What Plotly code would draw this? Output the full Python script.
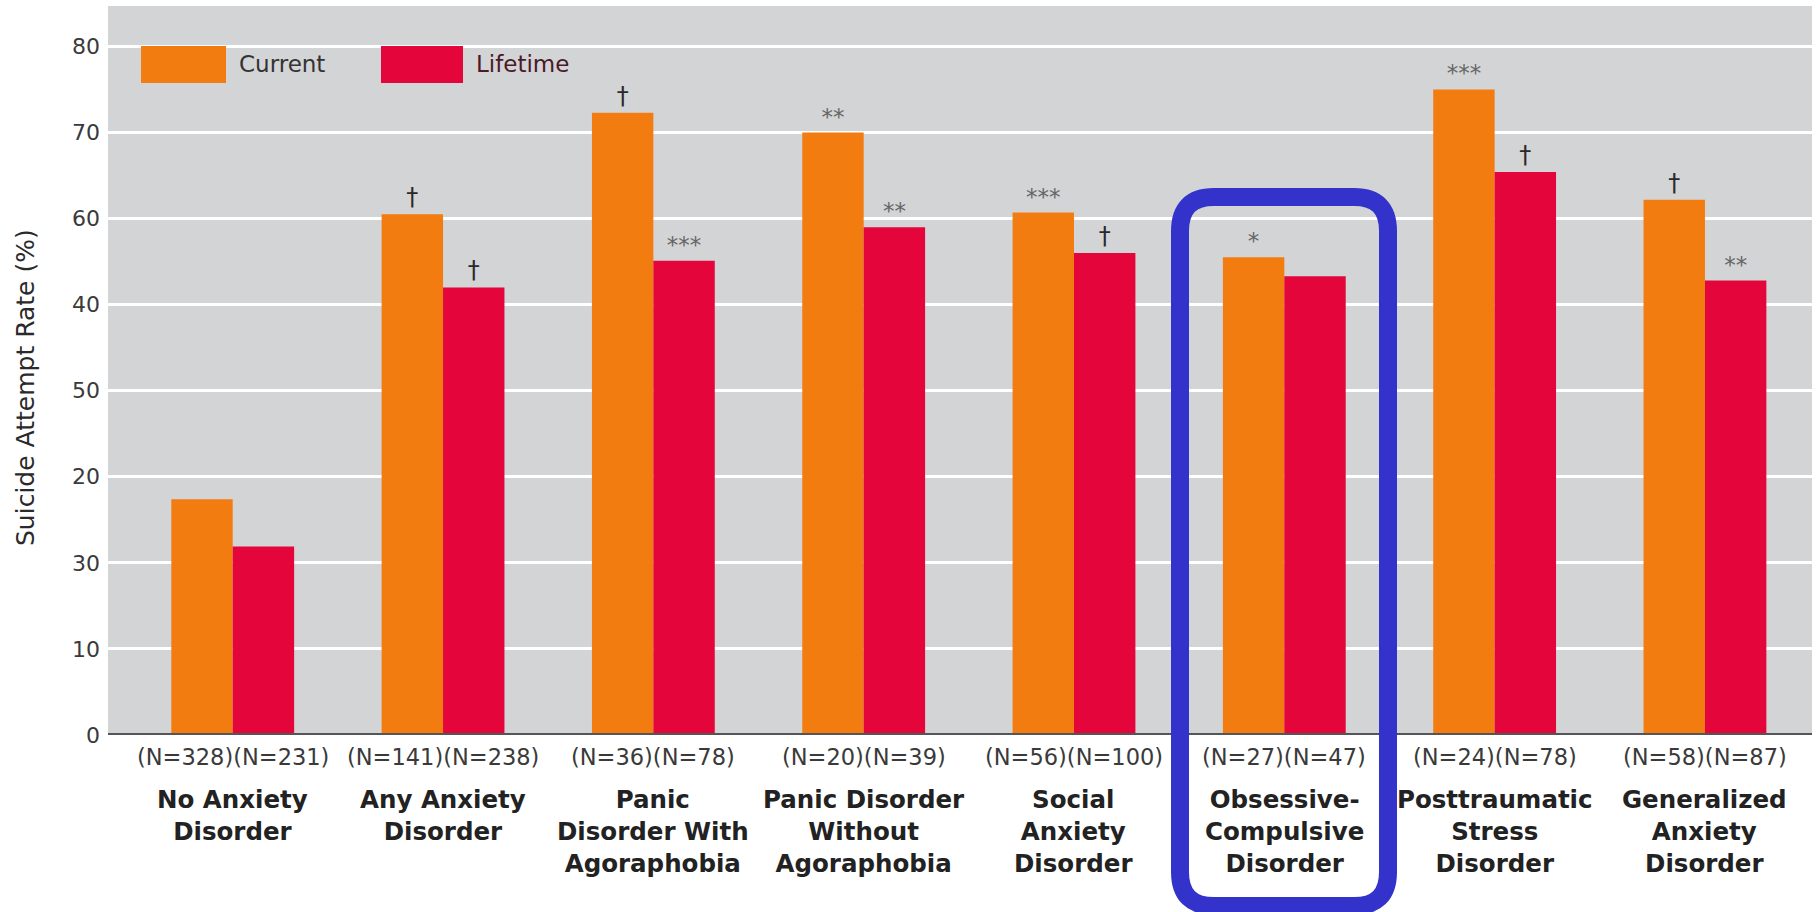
import plotly.graph_objects as go

# ---- data ----
categories = [
    "No Anxiety<br>Disorder",
    "Any Anxiety<br>Disorder",
    "Panic<br>Disorder With<br>Agoraphobia",
    "Panic Disorder<br>Without<br>Agoraphobia",
    "Social<br>Anxiety<br>Disorder",
    "Obsessive-<br>Compulsive<br>Disorder",
    "Posttraumatic<br>Stress<br>Disorder",
    "Generalized<br>Anxiety<br>Disorder",
]
n_labels = [
    "(N=328)(N=231)", "(N=141)(N=238)", "(N=36)(N=78)", "(N=20)(N=39)",
    "(N=56)(N=100)", "(N=27)(N=47)", "(N=24)(N=78)", "(N=58)(N=87)",
]
current = [27.4, 60.5, 72.3, 70.0, 60.7, 55.5, 75.0, 62.2]
lifetime = [21.9, 52.0, 55.1, 59.0, 56.0, 53.3, 65.4, 52.8]
current_marks = ["", "†", "†", "**", "***", "*", "***", "†"]
lifetime_marks = ["", "†", "***", "**", "†", "", "†", "**"]
y_tickvals = [0, 10, 20, 30, 40, 50, 60, 70, 80]
y_ticktext = ["0", "10", "30", "20", "50", "40", "60", "70", "80"]
series_names = ["Current", "Lifetime"]

# ---- style ----
ORANGE = "#F37C10"
RED = "#E4063A"
BG = "#D3D4D6"
BLUE = "#3333CC"
FONT = "DejaVu Sans"


def mark_colors(marks):
    return ["#2a2a2a" if m == "†" else "#666666" for m in marks]


def mark_sizes(marks):
    return [24 if m == "†" else 23 for m in marks]


fig = go.Figure()
for name, vals, marks, col in [
    (series_names[0], current, current_marks, ORANGE),
    (series_names[1], lifetime, lifetime_marks, RED),
]:
    fig.add_trace(go.Bar(
        x=categories, y=vals, name=name, marker=dict(color=col, line=dict(width=0)),
        text=marks, textposition="outside", cliponaxis=False,
        textfont=dict(family=FONT, color=mark_colors(marks), size=mark_sizes(marks)),
        constraintext="none", showlegend=False, hoverinfo="y",
    ))

W, H = 1816, 912
L, R, T, B = 108, 4, 6, 177
pw, ph = W - L - R, H - T - B


def px(x):
    return (x - L) / pw


def py(y):
    return (H - B - y) / ph


annotations = []
for cat, nl in zip(categories, n_labels):
    annotations.append(dict(
        x=cat, xref="x", y=py(756.5), yref="paper", text=nl, showarrow=False,
        xanchor="center", yanchor="middle",
        font=dict(family=FONT, size=22.5, color="#3a3a3a"),
    ))
    annotations.append(dict(
        x=cat, xref="x", y=py(783), yref="paper", text=cat, showarrow=False,
        xanchor="center", yanchor="top", align="center",
        font=dict(family=FONT, size=24.5, color="#222222", weight="bold"),
    ))

# y axis title
annotations.append(dict(
    x=px(25), xref="paper", y=py(388), yref="paper", text="Suicide Attempt Rate (%)",
    textangle=-90, showarrow=False, xanchor="center", yanchor="middle",
    font=dict(family=FONT, size=25, color="#2a2a2a"),
))

shapes = []
# legend swatches
legend_items = [(series_names[0], ORANGE, 141, 226, 237, "#333333"),
                (series_names[1], RED, 381, 463, 474, "#4a1a28")]
for name, col, x0, x1, tx, tcol in legend_items:
    shapes.append(dict(type="rect", xref="paper", yref="paper",
                       x0=px(x0), x1=px(x1), y0=py(83), y1=py(46),
                       fillcolor=col, line=dict(width=0), layer="above"))
    annotations.append(dict(
        x=px(tx), xref="paper", y=py(64), yref="paper", text=name, showarrow=False,
        xanchor="left", yanchor="middle",
        font=dict(family=FONT, size=23, color=tcol),
    ))

# zero axis line
shapes.append(dict(type="line", xref="paper", yref="y", x0=0, x1=1, y0=0, y1=0,
                   line=dict(color="#555555", width=4), layer="above"))

# highlight box (rounded rectangle)
bx0, bx1, by0, by1, rad = 1180, 1388, 197, 906, 34
rx, ry = rad / pw, rad / ph
X0, X1, Y0, Y1 = px(bx0), px(bx1), py(by1), py(by0)
path = (f"M {X0+rx},{Y1} L {X1-rx},{Y1} Q {X1},{Y1} {X1},{Y1-ry} "
        f"L {X1},{Y0+ry} Q {X1},{Y0} {X1-rx},{Y0} L {X0+rx},{Y0} "
        f"Q {X0},{Y0} {X0},{Y0+ry} L {X0},{Y1-ry} Q {X0},{Y1} {X0+rx},{Y1} Z")
shapes.append(dict(type="path", xref="paper", yref="paper", path=path,
                   line=dict(color=BLUE, width=18), fillcolor="rgba(0,0,0,0)", layer="above"))

fig.update_layout(
    width=W, height=H,
    margin=dict(l=L, r=R, t=T, b=B, pad=0),
    paper_bgcolor="white", plot_bgcolor=BG,
    barmode="group", bargap=0.416, bargroupgap=0,
    showlegend=False,
    xaxis=dict(range=[-0.593, 7.509], showticklabels=False, showgrid=False,
               zeroline=False, showline=False, ticks=""),
    yaxis=dict(range=[0, 84.7], tickvals=y_tickvals, ticktext=y_ticktext,
               showgrid=True, gridcolor="white", gridwidth=3, zeroline=False,
               showline=False, ticks="", ticklabelstandoff=7,
               tickfont=dict(family=FONT, size=22, color="#3a3a3a")),
    annotations=annotations, shapes=shapes,
    font=dict(family=FONT),
)

fig.write_html("out.html", config={"displayModeBar": False})
